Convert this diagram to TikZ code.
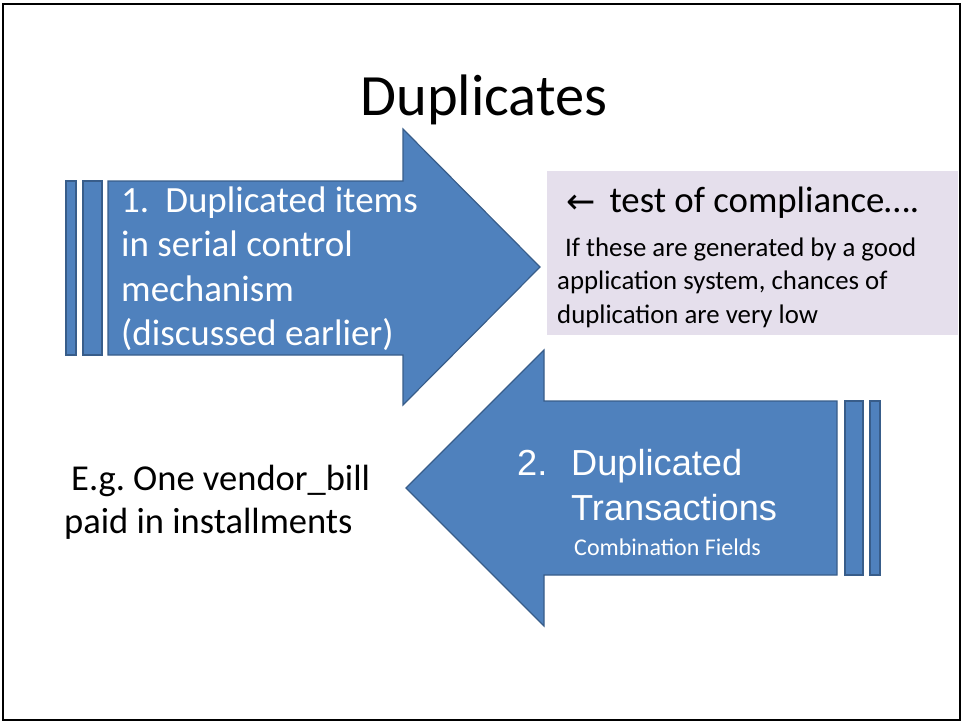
\documentclass[tikz,border=0pt]{standalone}
\usepackage{fontspec}
\setmainfont{Carlito}
\newfontfamily\arialfont{Liberation Sans}
\newfontfamily\symfont{DejaVu Sans}
\definecolor{arrowfill}{HTML}{4F81BD}
\definecolor{arrowline}{HTML}{385D8A}
\definecolor{notefill}{HTML}{E5DFEC}
\begin{document}
\begin{tikzpicture}[x=1pt,y=-1pt,
  bluepart/.style={fill=arrowfill,draw=arrowline,line width=1.2pt,line join=miter},
  whitetext/.style={inner sep=0pt,align=left,text=white},
  blacktext/.style={inner sep=0pt,align=left,text=black}]
\useasboundingbox (0,0) rectangle (963,723);
% slide frame
\draw[line width=2.4pt] (3,4) rectangle (960,720);

% title
\node[inner sep=0pt,anchor=base,font={\fontsize{58.5}{70}\selectfont}] (title) at (484,115) {Duplicates};

% arrow 1 pointing right, with two stripes at its tail
\draw[bluepart] (66,181) rectangle (76,355);
\draw[bluepart] (83,181) rectangle (102,355);
\draw[bluepart] (108,181) -- (403,181) -- (403,129) -- (540,267) -- (403,405) -- (403,355) -- (108,355) -- cycle;
% (base anchor of a multi-line node sits on its last line)
\node[whitetext,anchor=base west,font={\fontsize{37}{44.5}\selectfont}] (one) at (121,345.5)
  {1.\hspace{16pt}Duplicated items\\in serial control\\mechanism\\(discussed earlier)};

% note box
\fill[notefill] (547,171) rectangle (958,335);
\node[blacktext,anchor=base west,font={\fontsize{36.8}{40}\selectfont}] (note) at (566,212)
  {{\symfont\fontsize{35}{40}\selectfont\raisebox{-1pt}{←}}\hspace{14pt}test of compliance….};
\node[blacktext,anchor=base west,font={\fontsize{26.8}{33.5}\selectfont}] (notebody) at (557,323)
  {\hspace{8pt}If these are generated by a good\\application system, chances of\\duplication are very low};

% arrow 2 pointing left, with two stripes at its tail
\draw[bluepart] (837,401) -- (544,401) -- (544,350) -- (406,488) -- (544,626) -- (544,575) -- (837,575) -- cycle;
\draw[bluepart] (845,401) rectangle (863,575);
\draw[bluepart] (870,401) rectangle (880,575);
\node[whitetext,anchor=base west,font={\arialfont\fontsize{36.2}{45}\selectfont}] (twonum) at (517,475) {2.};
\node[whitetext,anchor=base west,font={\arialfont\fontsize{36.2}{45}\selectfont}] (two) at (571,520)
  {Duplicated\\Transactions};
\node[whitetext,anchor=base west,font={\fontsize{24}{28}\selectfont}] (twosub) at (574,555) {Combination Fields};

% example text
\node[blacktext,anchor=base west,font={\fontsize{36.5}{43}\selectfont}] (example) at (64,533)
  {\hspace{7pt}E.g.\ One vendor\_bill\\paid in installments};
\end{tikzpicture}
\end{document}
